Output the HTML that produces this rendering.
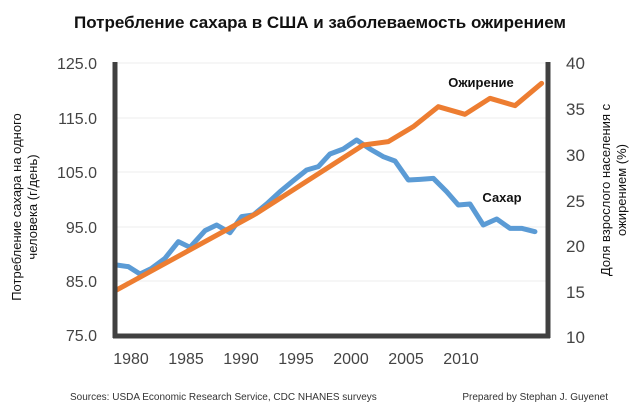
<!DOCTYPE html>
<html><head><meta charset="utf-8"><style>
body{margin:0;background:#fff;}
svg text{font-family:"Liberation Sans","DejaVu Sans",sans-serif;}
</style></head><body>
<svg width="640" height="415" viewBox="0 0 640 415" xmlns="http://www.w3.org/2000/svg">
<text x="320" y="28" text-anchor="middle" font-size="17" font-weight="bold" fill="#111">Потребление сахара в США и заболеваемость ожирением</text>
<g stroke="#eee" stroke-width="1">
<line x1="117" y1="63" x2="546" y2="63"/><line x1="117" y1="118" x2="546" y2="118"/><line x1="117" y1="172" x2="546" y2="172"/><line x1="117" y1="227" x2="546" y2="227"/><line x1="117" y1="281" x2="546" y2="281"/>
</g>
<g fill="#444" font-size="16">
<g text-anchor="end">
<text x="97" y="69">125.0</text><text x="97" y="124">115.0</text><text x="97" y="178">105.0</text><text x="97" y="233">95.0</text><text x="97" y="287">85.0</text><text x="97" y="341">75.0</text>
</g>
<g text-anchor="start" font-size="17">
<text x="566" y="69">40</text><text x="566" y="115">35</text><text x="566" y="161">30</text><text x="566" y="207">25</text><text x="566" y="252">20</text><text x="566" y="298">15</text><text x="566" y="343">10</text>
</g>
<g text-anchor="middle">
<text x="131" y="364">1980</text><text x="186" y="364">1985</text><text x="241" y="364">1990</text><text x="296" y="364">1995</text><text x="351" y="364">2000</text><text x="406" y="364">2005</text><text x="461" y="364">2010</text>
</g>
</g>
<g fill="#111" font-size="13" text-anchor="middle">
<text transform="translate(21,207) rotate(-90)">Потребление сахара на одного</text>
<text transform="translate(37,207) rotate(-90)">человека (г/день)</text>
<text transform="translate(610,190) rotate(-90)">Доля взрослого населения с</text>
<text transform="translate(626,190) rotate(-90)">ожирением (%)</text>
</g>
<g transform="translate(100,50) scale(0.3333)" fill="none" stroke-width="15" stroke-linejoin="round" stroke-linecap="round">
<polyline stroke="#5b9bd5" points="50,645 85,650 120,672 155,655 195,625 235,575 270,592 315,542 350,525 390,548 425,500 460,495 500,462 540,425 580,392 620,360 655,350 690,312 730,297 770,270 810,297 850,320 885,333 925,390 960,388 1000,385 1040,425 1075,465 1110,462 1150,525 1190,507 1230,535 1265,535 1305,545"/>
<polyline stroke="#ed7d31" points="50,720 470,490 790,285 865,275 940,230 1015,170 1095,193 1170,145 1245,167 1325,100"/>
</g>
<g stroke="#404040" stroke-width="5" fill="none">
<line x1="115" y1="62" x2="115" y2="338"/><line x1="548" y1="62" x2="548" y2="338"/><line x1="113" y1="336" x2="550" y2="336"/>
</g>
<text x="481" y="87" text-anchor="middle" font-size="13" font-weight="bold" fill="#111">Ожирение</text>
<text x="502" y="202" text-anchor="middle" font-size="13" font-weight="bold" fill="#111">Сахар</text>
<text x="70" y="400" font-size="10" fill="#333">Sources: USDA Economic Research Service, CDC NHANES surveys</text>
<text x="608" y="400" text-anchor="end" font-size="10" fill="#333">Prepared by Stephan J. Guyenet</text>
</svg>
</body></html>
